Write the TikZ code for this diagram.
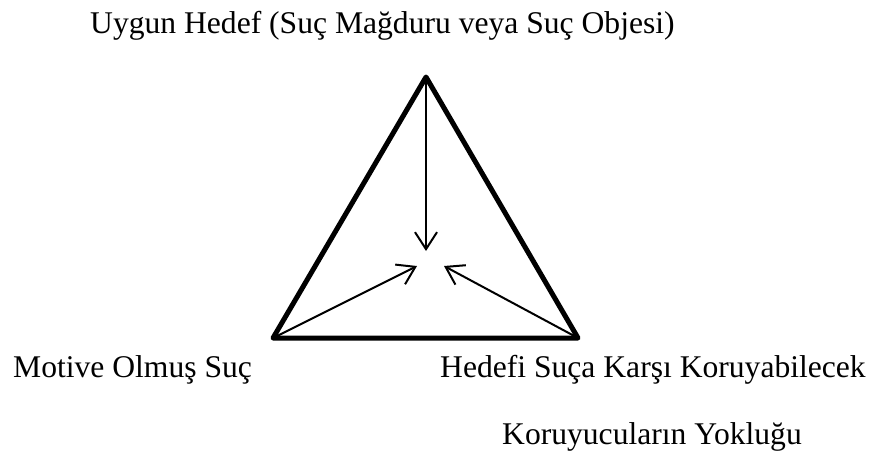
\documentclass[tikz,border=0pt]{standalone}
\usepackage{fontspec}
\setmainfont{Liberation Serif}
\usetikzlibrary{arrows.meta}
\begin{document}
\begin{tikzpicture}[x=1pt,y=-1pt,
  lbl/.style={anchor=base west,inner sep=0pt,font=\fontsize{31.6}{38}\selectfont},
  edge/.style={line width=5pt,line join=round,line cap=round},
  arr/.style={line width=2pt,-{Straight Barb[length=17pt,width=22pt,line width=2pt]}}]
\useasboundingbox (0,0) rectangle (874,455);
\coordinate (A) at (426,77);
\coordinate (B) at (273,338);
\coordinate (C) at (578,338);
\coordinate (tA) at (426,251);
\coordinate (tB) at (417,266);
\coordinate (tC) at (444,266);
\draw[edge] (A) -- (B) -- (C) -- cycle;
\draw[arr] (A) -- (tA);
\draw[arr] (B) -- (tB);
\draw[arr] (C) -- (tC);
\node[lbl] (top) at (90,33.5) {Uygun Hedef (Suç Mağduru veya Suç Objesi)};
\node[lbl] (mot) at (13,377) {Motive Olmuş Suç};
\node[lbl] (hed) at (440,377) {Hedefi Suça Karşı Koruyabilecek};
\node[lbl] (kor) at (502,444) {Koruyucuların Yokluğu};
\end{tikzpicture}
\end{document}
